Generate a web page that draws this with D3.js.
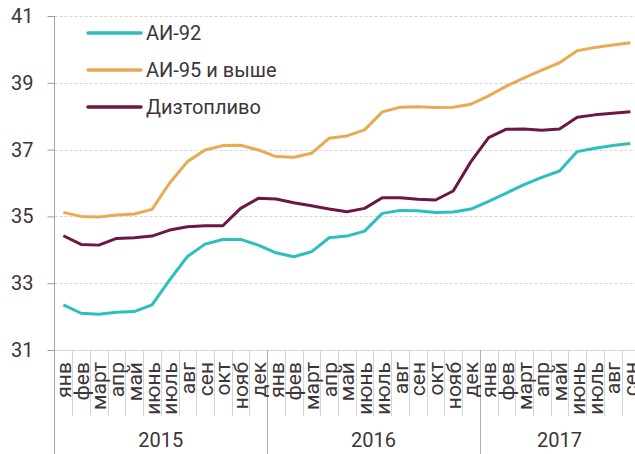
<!DOCTYPE html>
<html lang="ru">
<head>
    <meta charset="UTF-8">
    <title>Цены на топливо</title>
    <style>
        body {
            margin: 0;
            padding: 0;
            background-color: #fff;
            font-family: 'Roboto', 'Noto Sans', sans-serif;
        }
        svg { display: block; }
        .grid line {
            stroke: #d6d6d6;
            stroke-dasharray: 3, 2;
        }
        .series {
            fill: none;
            stroke-width: 3px;
            stroke-linejoin: round;
        }
        text { fill: #3d3537; }
    </style>
</head>
<body>
    <div id="chart"></div>

    <script src="https://d3js.org/d3.v7.min.js"></script>
    <script>
        const width = 635;
        const height = 454;

        const months = ["янв", "фев", "март", "апр", "май", "июнь", "июль", "авг", "сен", "окт", "нояб", "дек"];
        const years = ["2015", "2016", "2017"];
        const monthsPerYear = [12, 12, 9];
        const yTicks = [31, 33, 35, 37, 39, 41];

        const ai92 = [32.35, 32.1, 32.07, 32.13, 32.15, 32.35, 33.1, 33.8, 34.17, 34.31, 34.31, 34.14,
            33.91, 33.79, 33.94, 34.36, 34.41, 34.56, 35.09, 35.18, 35.17, 35.12, 35.13, 35.22,
            35.45, 35.7, 35.95, 36.17, 36.36, 36.94, 37.04, 37.12, 37.18];
        const ai95 = [35.12, 35.0, 34.98, 35.04, 35.07, 35.21, 36.0, 36.64, 36.99, 37.12, 37.13, 36.99,
            36.79, 36.77, 36.89, 37.34, 37.41, 37.59, 38.13, 38.27, 38.28, 38.26, 38.27, 38.36,
            38.61, 38.9, 39.15, 39.38, 39.6, 39.96, 40.06, 40.13, 40.2];
        const diesel = [34.42, 34.16, 34.14, 34.34, 34.36, 34.41, 34.59, 34.69, 34.72, 34.72, 35.24, 35.54,
            35.52, 35.41, 35.32, 35.22, 35.14, 35.24, 35.56, 35.56, 35.51, 35.49, 35.76, 36.64,
            37.36, 37.61, 37.62, 37.58, 37.62, 37.97, 38.04, 38.09, 38.13];

        const series = [
            { name: "АИ-92", values: ai92, color: "#2dbfbd" },
            { name: "АИ-95 и выше", values: ai95, color: "#e9aa55" },
            { name: "Дизтопливо", values: diesel, color: "#6d1744" }
        ];

        // month labels for every point, year by year
        const categories = [];
        years.forEach((yr, i) => {
            for (let m = 0; m < monthsPerYear[i]; m++) {
                categories.push({ year: yr, month: months[m] });
            }
        });

        const plotLeft = 54.5, plotTop = 16, plotBottom = 350;
        // the last month runs a little past the picture edge
        const plotRight = plotLeft + categories.length * 17.72;

        const x = d3.scaleBand()
            .domain(d3.range(categories.length))
            .range([plotLeft, plotRight])
            .padding(0);

        const y = d3.scaleLinear()
            .domain([31, 41])
            .range([plotBottom, plotTop]);

        const svg = d3.select('#chart')
            .append('svg')
            .attr('width', width)
            .attr('height', height);

        // horizontal grid
        svg.append('g')
            .attr('class', 'grid')
            .selectAll('line')
            .data(yTicks.filter(d => d !== 31))
            .enter()
            .append('line')
            .attr('x1', plotLeft)
            .attr('x2', width)
            .attr('y1', d => Math.round(y(d)) + 0.5)
            .attr('y2', d => Math.round(y(d)) + 0.5);

        // base line at 31
        svg.append('line')
            .attr('x1', plotLeft)
            .attr('x2', width)
            .attr('y1', Math.round(y(31)) + 0.5)
            .attr('y2', Math.round(y(31)) + 0.5)
            .style('stroke', '#d9d9d9');

        // y axis
        const yAxis = svg.append('g')
            .attr('transform', `translate(${plotLeft},0)`)
            .call(d3.axisLeft(y).tickValues(yTicks).tickSize(7).tickPadding(14));
        yAxis.select('.domain').remove();
        yAxis.selectAll('.tick line').style('stroke', '#999');
        yAxis.selectAll('.tick text')
            .style('font-size', '20px')
            .style('font-family', "'Roboto', sans-serif")
            .style('fill', '#3d3537');

        svg.append('line')
            .attr('x1', plotLeft).attr('x2', plotLeft)
            .attr('y1', plotTop).attr('y2', height)
            .style('stroke', '#a6a6a6');

        // month separators
        svg.append('g')
            .selectAll('line')
            .data(d3.range(1, categories.length + 1))
            .enter()
            .append('line')
            .attr('x1', d => Math.round(x(d - 1) + x.bandwidth()) + 0.5)
            .attr('x2', d => Math.round(x(d - 1) + x.bandwidth()) + 0.5)
            .attr('y1', plotBottom)
            .attr('y2', 416)
            .style('stroke', '#d4d4d4');

        // year separators
        let start = 0;
        const yearSpans = years.map((yr, i) => {
            const s = { year: yr, first: start, last: start + monthsPerYear[i] - 1 };
            start += monthsPerYear[i];
            return s;
        });

        svg.append('g')
            .selectAll('line')
            .data(yearSpans.slice(1))
            .enter()
            .append('line')
            .attr('x1', d => Math.round(x(d.first)) + 0.5)
            .attr('x2', d => Math.round(x(d.first)) + 0.5)
            .attr('y1', plotBottom)
            .attr('y2', height)
            .style('stroke', '#b0b0b0');

        // month labels
        svg.append('g')
            .selectAll('text')
            .data(categories)
            .enter()
            .append('text')
            .attr('transform', (d, i) => `translate(${x(i) + x.bandwidth() / 2},362) rotate(-90)`)
            .attr('dy', '0.36em')
            .style('text-anchor', 'end')
            .style('font-size', '21px')
            .text(d => d.month);

        // year labels
        svg.append('g')
            .selectAll('text')
            .data(yearSpans)
            .enter()
            .append('text')
            .attr('x', d => (x(d.first) + x(d.last) + x.bandwidth()) / 2)
            .attr('y', 440)
            .attr('dy', '0.35em')
            .style('text-anchor', 'middle')
            .style('font-size', '20px')
            .text(d => d.year);

        // lines
        const line = d3.line()
            .x((d, i) => x(i) + x.bandwidth() / 2)
            .y(d => y(d));

        svg.append('g')
            .selectAll('path')
            .data(series)
            .enter()
            .append('path')
            .attr('class', 'series')
            .style('stroke', d => d.color)
            .attr('d', d => line(d.values));

        // legend
        const legend = svg.append('g')
            .selectAll('g')
            .data(series)
            .enter()
            .append('g')
            .attr('transform', (d, i) => `translate(88,${33 + i * 37})`);

        legend.append('line')
            .attr('x1', 0)
            .attr('x2', 53)
            .style('stroke', d => d.color)
            .style('stroke-width', 3.5)
            .style('stroke-linecap', 'round');

        legend.append('text')
            .attr('x', 58)
            .attr('dy', '0.35em')
            .style('font-size', '20px')
            .text(d => d.name);
    </script>
</body>
</html>
